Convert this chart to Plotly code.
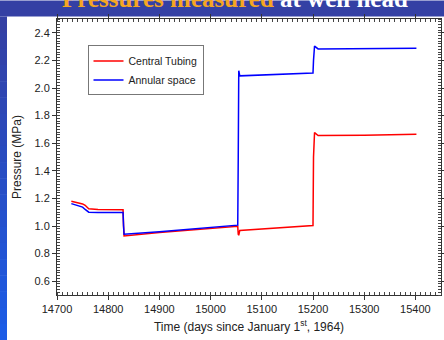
import plotly.graph_objects as go

# ---- data ----
time_days = [14728, 14740, 14750, 14755, 14762, 14780, 14829, 14830, 14831,
             14900, 14980, 15053, 15054, 15055, 15057, 15100, 15150, 15200,
             15201, 15203, 15210, 15300, 15402]
central_tubing = [1.18, 1.17, 1.16, 1.15, 1.125, 1.12, 1.117, 1.0, 0.928,
                  0.952, 0.977, 0.998, 0.94, 0.933, 0.968, 0.978, 0.99, 1.003,
                  1.50, 1.677, 1.656, 1.657, 1.664]
annular_space = [1.162, 1.15, 1.137, 1.12, 1.10, 1.098, 1.097, 1.0, 0.94,
                 0.958, 0.982, 1.006, 1.50, 2.125, 2.088, 2.095, 2.101, 2.109,
                 2.20, 2.304, 2.283, 2.285, 2.288]
x_ticks = [14700, 14800, 14900, 15000, 15100, 15200, 15300, 15400]
y_ticks = [0.6, 0.8, 1.0, 1.2, 1.4, 1.6, 1.8, 2.0, 2.2, 2.4]

W, H = 444, 340
ML, MR, MT, MB = 57, 3, 18.5, 45
PW, PH = W - ML - MR, H - MT - MB

fig = go.Figure()
fig.add_trace(go.Scatter(x=time_days, y=central_tubing, mode="lines",
                         name="Central Tubing",
                         line=dict(color="#ff0000", width=1.5)))
fig.add_trace(go.Scatter(x=time_days, y=annular_space, mode="lines",
                         name="Annular space",
                         line=dict(color="#0000ff", width=1.5)))

def px_x(px):
    return (px - ML) / PW

def px_y(py):
    return 1 - (py - MT) / PH

shapes = []
# top band
shapes.append(dict(type="rect", xref="paper", yref="paper",
                   x0=px_x(0), x1=px_x(W), y0=px_y(16), y1=px_y(0),
                   fillcolor="#3440a4", line=dict(width=0), layer="below"))
# left gradient band
n = 20
c0 = (0x34, 0x40, 0xa4)
c1 = (0x1c, 0x5c, 0xe6)
for i in range(n):
    f = i / (n - 1)
    col = "rgb(%d,%d,%d)" % tuple(int(a + (b - a) * f) for a, b in zip(c0, c1))
    shapes.append(dict(type="rect", xref="paper", yref="paper",
                       x0=px_x(0), x1=px_x(7),
                       y0=px_y(16 + (H - 16) * (i + 1) / n + 0.5),
                       y1=px_y(16 + (H - 16) * i / n),
                       fillcolor=col, line=dict(width=0), layer="below"))

axis_common = dict(
    showline=True, linecolor="#333333", linewidth=1, mirror="allticks",
    ticks="outside", ticklen=4, tickcolor="#333333",
    showgrid=False, zeroline=False, automargin=False,
    tickfont=dict(family="Liberation Sans, Arial", size=11, color="#222222"),
)

fig.update_layout(
    width=W, height=H,
    margin=dict(l=ML, r=MR, t=MT, b=MB, pad=0),
    paper_bgcolor="white", plot_bgcolor="white",
    shapes=shapes,
    showlegend=True,
    legend=dict(x=px_x(87.5), y=px_y(45), xanchor="left", yanchor="top",
                bordercolor="#777777", borderwidth=1, bgcolor="white",
                font=dict(family="Liberation Sans, Arial", size=10.5, color="#222222"),
                tracegroupgap=0, itemwidth=30),
    xaxis=dict(range=[14700, 15450], tickvals=x_ticks, tickformat="d",
               minor=dict(dtick=10, ticks="inside", ticklen=3, tickcolor="#444444"),
               title=dict(text="Time (days since January 1<sup>st</sup>, 1964)",
                          font=dict(family="Liberation Sans, Arial", size=12, color="#222222"),
                          standoff=8),
               **axis_common),
    yaxis=dict(range=[0.5, 2.5], tickvals=y_ticks, tickformat=".1f",
               minor=dict(dtick=0.02, ticks="inside", ticklen=3, tickcolor="#444444"),
               title=dict(text="Pressure (MPa)",
                          font=dict(family="Liberation Sans, Arial", size=12, color="#222222"),
                          standoff=10),
               **axis_common),
    annotations=[dict(
        xref="paper", yref="paper", x=px_x(60), y=px_y(13),
        xanchor="left", yanchor="bottom", showarrow=False,
        text="<b><span style='color:#f5a623'>Pressures measured</span> at well head</b>",
        font=dict(family="Liberation Serif, Times New Roman", size=25, color="white"),
    )],
)

fig.write_html("out.html",
               config={"displayModeBar": False},
               post_script="document.body.style.margin='0';document.body.style.overflow='hidden';")
